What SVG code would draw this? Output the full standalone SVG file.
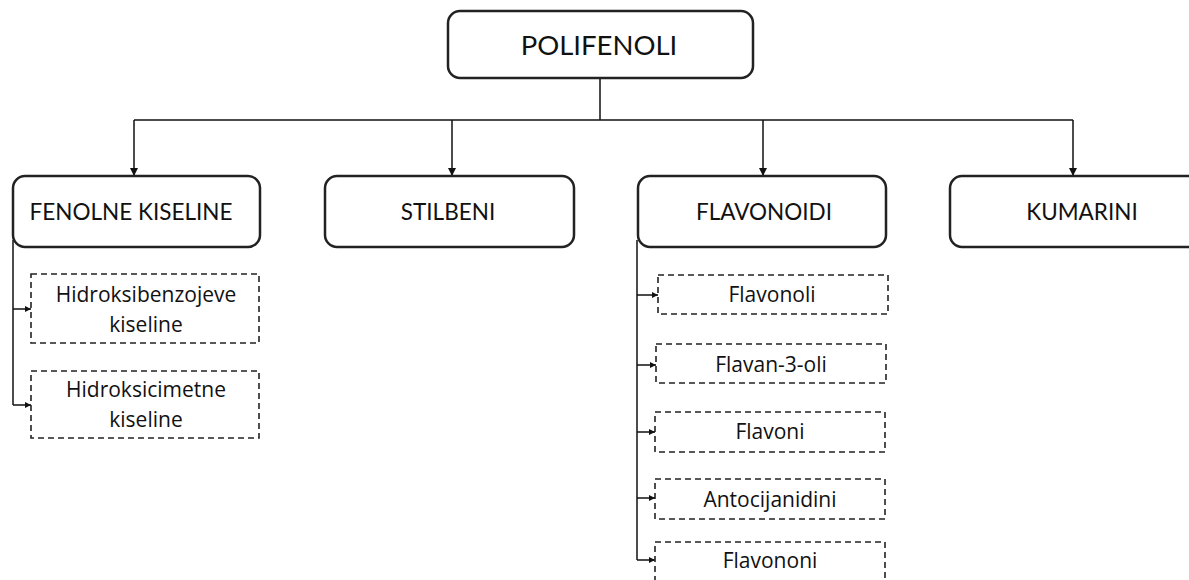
<svg xmlns="http://www.w3.org/2000/svg" width="1189" height="580" viewBox="0 0 1189 580">
<style>
.main{fill:#fff;stroke:#222;stroke-width:2.5}
.sub{fill:#fff;stroke:#222;stroke-width:1.6;stroke-dasharray:6 4}
.ht{font-family:Lato,"Liberation Sans",sans-serif;font-size:22.5px;fill:#111;text-anchor:middle}
.st{font-family:"Open Sans","Noto Sans",sans-serif;font-size:21px;fill:#111;text-anchor:middle}
.ln{fill:none;stroke:#111;stroke-width:1.5}
</style>
<defs>
<marker id="ah" viewBox="0 0 10 10" refX="10" refY="5" markerWidth="8" markerHeight="8" markerUnits="userSpaceOnUse" orient="auto">
<path d="M0,0 L10,5 L0,10 z" fill="#111"/>
</marker>
<marker id="as" viewBox="0 0 10 10" refX="10" refY="5" markerWidth="6" markerHeight="6" markerUnits="userSpaceOnUse" orient="auto">
<path d="M0,0 L10,5 L0,10 z" fill="#111"/>
</marker>
</defs>
<g id="connectors">
<path class="ln" d="M600,78 V120 M134,120 H1073"/>
<path class="ln" d="M134,120 V176" marker-end="url(#ah)"/>
<path class="ln" d="M452,120 V176" marker-end="url(#ah)"/>
<path class="ln" d="M763,120 V176" marker-end="url(#ah)"/>
<path class="ln" d="M1073,120 V176" marker-end="url(#ah)"/>
<path class="ln" d="M13,240 V405"/>
<path class="ln" d="M13,309 H31" marker-end="url(#as)"/>
<path class="ln" d="M13,405 H31" marker-end="url(#as)"/>
<path class="ln" d="M637,240 V560"/>
<path class="ln" d="M637,295 H658" marker-end="url(#as)"/>
<path class="ln" d="M637,365 H656" marker-end="url(#as)"/>
<path class="ln" d="M637,432 H655" marker-end="url(#as)"/>
<path class="ln" d="M637,498 H655" marker-end="url(#as)"/>
<path class="ln" d="M637,560 H655" marker-end="url(#as)"/>
</g>
<g id="polifenoli"><rect class="main" x="448" y="11" width="305" height="67" rx="12"/><text class="ht" x="599" y="55" style="font-size:27.5px">POLIFENOLI</text></g>
<g id="fenolne"><rect class="main" x="13" y="176" width="247" height="71" rx="12"/><text class="ht" x="131" y="220">FENOLNE KISELINE</text></g>
<g id="stilbeni"><rect class="main" x="325" y="176" width="249" height="71" rx="12"/><text class="ht" x="448" y="220">STILBENI</text></g>
<g id="flavonoidi"><rect class="main" x="638" y="176" width="248" height="71" rx="12"/><text class="ht" x="764" y="220">FLAVONOIDI</text></g>
<g id="kumarini"><rect class="main" x="950" y="176" width="262" height="71" rx="12"/><text class="ht" x="1082" y="220">KUMARINI</text></g>
<g id="hidroksibenzojeve"><rect class="sub" x="31" y="274" width="228" height="69"/><text class="st" x="146" y="302">Hidroksibenzojeve</text><text class="st" x="146" y="332">kiseline</text></g>
<g id="hidroksicimetne"><rect class="sub" x="31" y="371" width="228" height="67"/><text class="st" x="146" y="397">Hidroksicimetne</text><text class="st" x="146" y="427">kiseline</text></g>
<g id="flavonoli"><rect class="sub" x="658" y="275" width="230" height="39"/><text class="st" x="772" y="302">Flavonoli</text></g>
<g id="flavan3oli"><rect class="sub" x="656" y="344" width="230" height="39"/><text class="st" x="771" y="372">Flavan-3-oli</text></g>
<g id="flavoni"><rect class="sub" x="655" y="412" width="230" height="40"/><text class="st" x="770" y="439">Flavoni</text></g>
<g id="antocijanidini"><rect class="sub" x="655" y="479" width="230" height="40"/><text class="st" x="770" y="507">Antocijanidini</text></g>
<g id="flavononi"><rect class="sub" x="655" y="542" width="230" height="60"/><text class="st" x="770" y="568">Flavononi</text></g>
</svg>
